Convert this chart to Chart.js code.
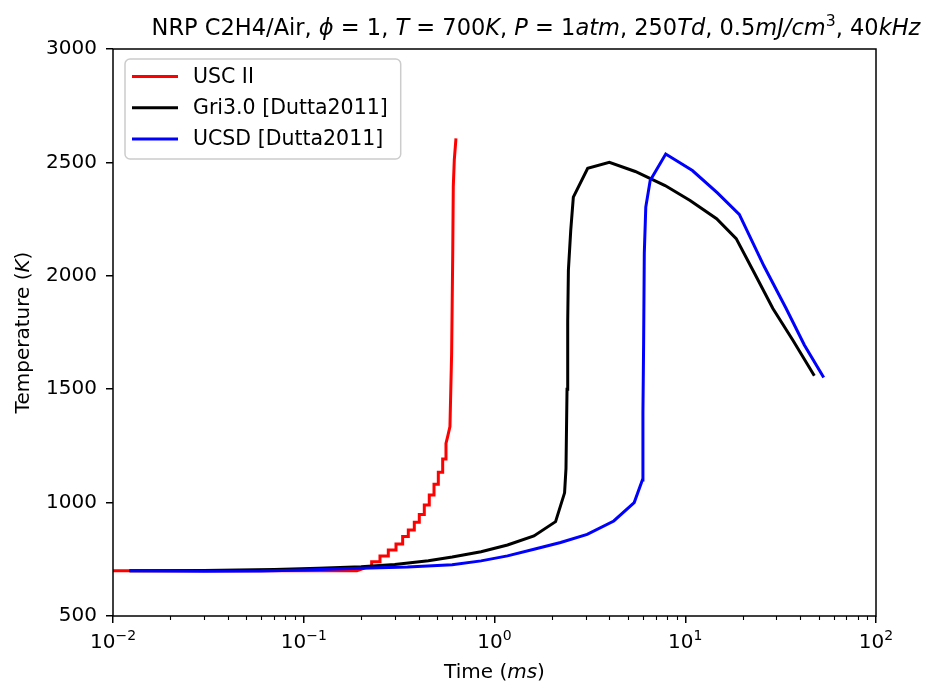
<!DOCTYPE html>
<html>
<head>
<meta charset="utf-8">
<title>NRP C2H4/Air temperature</title>
<script src="https://cdn.jsdelivr.net/npm/chart.js@4.4.1/dist/chart.umd.min.js"></script>
<style>
  html, body { margin: 0; padding: 0; background: #fff; }
</style>
</head>
<body>
<canvas id="tempChart" width="926" height="683"></canvas>
<script>
// values: time in ms, temperature in K
const uscTime = [0.01, 0.19, 0.21, 0.227, 0.227, 0.251, 0.251, 0.2775, 0.2775, 0.3045, 0.3045, 0.330, 0.330,
  0.3533, 0.3533, 0.3798, 0.3798, 0.4034, 0.4034, 0.4285, 0.4285, 0.455, 0.455, 0.4818, 0.4818, 0.5075, 0.5075,
  0.535, 0.535, 0.5567, 0.5567, 0.568, 0.584, 0.596, 0.604, 0.608, 0.6155, 0.628];
const uscTemp = [700, 700, 712, 720, 739, 739, 765, 765, 791, 791, 817, 817, 850,
  850, 879, 879, 913, 913, 948, 948, 989, 989, 1034, 1034, 1081, 1081, 1134,
  1134, 1192, 1192, 1261, 1291, 1335, 1658, 2099, 2393, 2511, 2606];

const griTime = [0.0122, 0.03, 0.07, 0.12, 0.2, 0.3, 0.45, 0.6, 0.85, 1.17, 1.61, 2.09, 2.33, 2.37, 2.40, 2.42,
  2.44, 2.51, 2.59, 3.08, 4.0, 5.47, 7.84, 10.6, 14.6, 18.5, 23.1, 28.8, 36.6, 47.5];
const griTemp = [700, 701, 705, 710, 717, 727, 744, 760, 783, 813, 853, 916, 1043, 1150, 1500, 1800,
  2025, 2200, 2347, 2474, 2500, 2460, 2398, 2332, 2252, 2164, 2010, 1856, 1717, 1559];

const ucsdTime = [0.0122, 0.03, 0.06, 0.1, 0.2, 0.35, 0.6, 0.85, 1.17, 1.61, 2.22, 3.06, 4.22, 5.40, 5.96, 6.0,
  6.05, 6.10, 6.21, 6.55, 7.9, 10.9, 14.7, 19.2, 25.9, 33.7, 42.1, 53.2];
const ucsdTemp = [700, 697, 698, 703, 711, 716, 726, 743, 765, 794, 824, 860, 919, 1000, 1100, 1400,
  1700, 2100, 2303, 2420, 2537, 2464, 2367, 2271, 2042, 1858, 1695, 1552];

const seriesNames = ['USC II', 'Gri3.0 [Dutta2011]', 'UCSD [Dutta2011]'];
const seriesColors = ['#ff0000', '#000000', '#0000ff'];
const xDecades = [0.01, 0.1, 1, 10, 100];
const xExponents = ['\u22122', '\u22121', '0', '1', '2'];
const yTicks = [500, 1000, 1500, 2000, 2500, 3000];

const FONT = '"DejaVu Sans", sans-serif';

function toPoints(xs, ys) {
  return xs.map((x, i) => ({ x: x, y: ys[i] }));
}

function partFont(p, size) {
  return (p.it ? 'italic ' : '') + (p.sup ? (size * 0.7).toFixed(1) : size) + 'px ' + FONT;
}

// draw text made of normal / italic / superscript pieces, centred on x
function drawRich(ctx, parts, x, y, size) {
  let w = 0;
  parts.forEach(p => { ctx.font = partFont(p, size); w += ctx.measureText(p.t).width; });
  let cx = x - w / 2;
  parts.forEach(p => {
    ctx.font = partFont(p, size);
    ctx.fillText(p.t, cx, p.sup ? y - size * 0.42 : y);
    cx += ctx.measureText(p.t).width;
  });
}

const decorPlugin = {
  id: 'decor',
  afterDraw(chart) {
    const ctx = chart.ctx;
    const area = chart.chartArea;
    const xs = chart.scales.x;
    ctx.save();
    ctx.fillStyle = '#000';
    ctx.strokeStyle = '#000';

    // frame
    ctx.lineWidth = 1.5;
    ctx.strokeRect(area.left, area.top, area.right - area.left, area.bottom - area.top);

    // minor ticks on the log axis
    ctx.lineWidth = 1.1;
    ctx.beginPath();
    xDecades.slice(0, -1).forEach(d => {
      for (let k = 2; k <= 9; k++) {
        const px = Math.round(xs.getPixelForValue(d * k)) + 0.5;
        ctx.moveTo(px, area.bottom);
        ctx.lineTo(px, area.bottom + 4);
      }
    });
    ctx.stroke();

    // decade labels 10^n
    ctx.textBaseline = 'alphabetic';
    xDecades.forEach((d, i) => {
      drawRich(ctx, [{ t: '10' }, { t: xExponents[i], sup: true }], xs.getPixelForValue(d), 648, 20);
    });

    // axis titles
    drawRich(ctx, [{ t: 'Time (' }, { t: 'ms', it: true }, { t: ')' }], (area.left + area.right) / 2, 678, 20);
    ctx.save();
    ctx.translate(29, (area.top + area.bottom) / 2);
    ctx.rotate(-Math.PI / 2);
    drawRich(ctx, [{ t: 'Temperature (' }, { t: 'K', it: true }, { t: ')' }], 0, 0, 20);
    ctx.restore();

    // title
    drawRich(ctx, [
      { t: 'NRP C2H4/Air, ' }, { t: '\u03d5', it: true }, { t: ' = 1, ' },
      { t: 'T', it: true }, { t: ' = 700' }, { t: 'K', it: true }, { t: ', ' },
      { t: 'P', it: true }, { t: ' = 1' }, { t: 'atm', it: true }, { t: ', 250' },
      { t: 'Td', it: true }, { t: ', 0.5' }, { t: 'mJ/cm', it: true }, { t: '3', sup: true },
      { t: ', 40' }, { t: 'kHz', it: true }
    ], 536, 35, 22.5);

    // legend
    ctx.font = '20.5px ' + FONT;
    const lx = area.left + 12, ly = area.top + 10;
    const textX = lx + 68;
    const tw = Math.max(...seriesNames.map(n => ctx.measureText(n).width));
    const lw = textX - lx + tw + 13, lh = 100;
    ctx.beginPath();
    ctx.roundRect(lx, ly, lw, lh, 5);
    ctx.fillStyle = 'rgba(255,255,255,0.8)';
    ctx.fill();
    ctx.strokeStyle = '#cccccc';
    ctx.lineWidth = 1.5;
    ctx.stroke();
    ctx.textBaseline = 'middle';
    seriesNames.forEach((name, i) => {
      const ry = ly + 17.5 + i * 31.3;
      ctx.strokeStyle = seriesColors[i];
      ctx.lineWidth = 3;
      ctx.beginPath();
      ctx.moveTo(lx + 7, ry);
      ctx.lineTo(lx + 53, ry);
      ctx.stroke();
      ctx.fillStyle = '#000';
      ctx.fillText(name, textX, ry + 1);
    });
    ctx.restore();
  }
};

const ctx = document.getElementById('tempChart').getContext('2d');
const tempChart = new Chart(ctx, {
  type: 'line',
  data: {
    datasets: [
      { label: seriesNames[0], data: toPoints(uscTime, uscTemp), borderColor: seriesColors[0], order: 2 },
      { label: seriesNames[1], data: toPoints(griTime, griTemp), borderColor: seriesColors[1], order: 1 },
      { label: seriesNames[2], data: toPoints(ucsdTime, ucsdTemp), borderColor: seriesColors[2], order: 0 }
    ]
  },
  options: {
    responsive: false,
    animation: false,
    parsing: false,
    layout: { padding: { left: 0, right: 50, top: 49, bottom: 0 } },
    elements: {
      line: { borderWidth: 3, tension: 0, fill: false, borderJoinStyle: 'miter' },
      point: { radius: 0, hoverRadius: 0 }
    },
    plugins: {
      legend: { display: false },
      title: { display: false },
      tooltip: { enabled: false }
    },
    scales: {
      x: {
        type: 'logarithmic',
        min: 0.01,
        max: 100,
        afterBuildTicks: scale => { scale.ticks = xDecades.map(v => ({ value: v })); },
        afterFit: scale => { scale.height = 67; },
        grid: { drawOnChartArea: false, drawTicks: true, tickLength: 7, color: '#000', lineWidth: 1.5 },
        border: { display: false },
        ticks: { display: false }
      },
      y: {
        min: 500,
        max: 3000,
        afterBuildTicks: scale => { scale.ticks = yTicks.map(v => ({ value: v })); },
        afterFit: scale => { scale.width = 113; },
        grid: { drawOnChartArea: false, drawTicks: true, tickLength: 7, color: '#000', lineWidth: 1.5 },
        border: { display: false },
        ticks: {
          color: '#000',
          font: { family: FONT, size: 20 },
          padding: 9,
          callback: value => String(value)
        }
      }
    }
  },
  plugins: [decorPlugin]
});
</script>
</body>
</html>
